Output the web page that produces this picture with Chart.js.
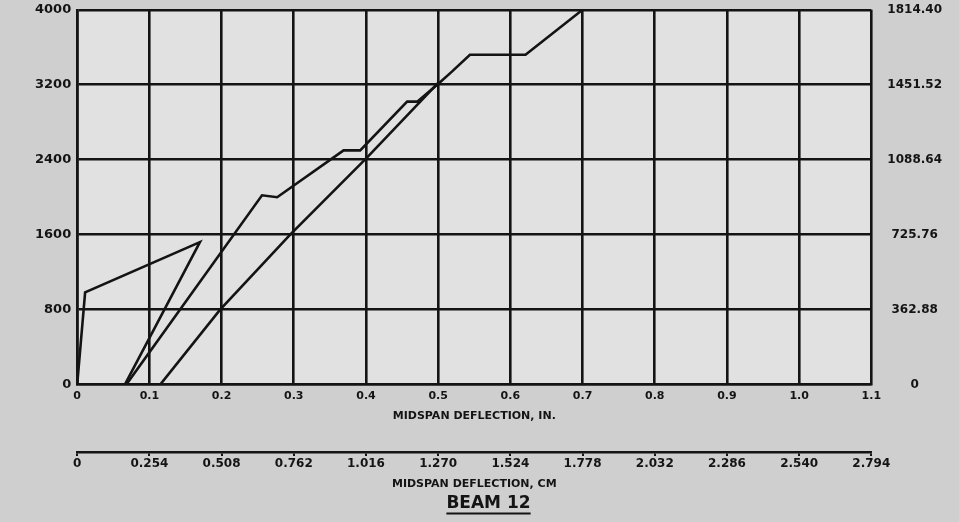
<!DOCTYPE html>
<html><head><meta charset="utf-8">
<script src="https://cdn.jsdelivr.net/npm/chart.js@4"></script>
<style>html,body{margin:0;padding:0;background:#cfcfcf;} #wrap{width:959px;height:522px;position:relative;}</style>
</head><body><div id="wrap"><canvas id="c" width="959" height="522"></canvas></div>
<script>
// Tick values and labels
const xTicksIn = [0, 0.1, 0.2, 0.3, 0.4, 0.5, 0.6, 0.7, 0.8, 0.9, 1.0, 1.1];
const xLabelsIn = ['0', '0.1', '0.2', '0.3', '0.4', '0.5', '0.6', '0.7', '0.8', '0.9', '1.0', '1.1'];
const xTicksCm = [0, 0.254, 0.508, 0.762, 1.016, 1.270, 1.524, 1.778, 2.032, 2.286, 2.540, 2.794];
const xLabelsCm = ['0', '0.254', '0.508', '0.762', '1.016', '1.270', '1.524', '1.778', '2.032', '2.286', '2.540', '2.794'];
const yTicksLb = [0, 800, 1600, 2400, 3200, 4000];
const yLabelsLb = ['0', '800', '1600', '2400', '3200', '4000'];
const yTicksKg = [0, 362.88, 725.76, 1088.64, 1451.52, 1814.40];
const yLabelsKg = ['0', '362.88', '725.76', '1088.64', '1451.52', '1814.40'];

// Load (lb) vs midspan deflection (in.)
const firstCycleX = [0, 0.011, 0.170, 0.066];
const firstCycleY = [0, 985, 1520, 0];
const secondCycleX = [0.068, 0.256, 0.277, 0.369, 0.392, 0.457, 0.471, 0.503, 0.519, 0.544, 0.621, 0.700];
const secondCycleY = [0, 2020, 2000, 2500, 2500, 3020, 3020, 3230, 3340, 3520, 3520, 4000];
const thirdCycleX = [0.115, 0.198, 0.295, 0.401, 0.500];
const thirdCycleY = [0, 800, 1600, 2420, 3220];

const pts = (xs, ys) => xs.map((x, i) => ({x: x, y: ys[i]}));
const INK = '#141414';
const FONT = '"DejaVu Sans", sans-serif';

const plotBg = {
  id: 'plotBg',
  beforeDraw(chart) {
    const {ctx, chartArea: a} = chart;
    ctx.save(); ctx.fillStyle = '#e1e1e1';
    ctx.fillRect(a.left, a.top, a.right - a.left, a.bottom - a.top);
    ctx.restore();
  }
};
const underline = {
  id: 'underline',
  afterDraw(chart) {
    const t = chart.titleBlock; if (!t) return;
    const ctx = chart.ctx;
    ctx.save();
    ctx.font = 'bold 17px ' + FONT;
    const w = ctx.measureText(chart.options.plugins.title.text).width;
    const cx = (t.left + t.right) / 2;
    const y = t.top + 21;
    ctx.strokeStyle = INK; ctx.lineWidth = 2;
    ctx.beginPath(); ctx.moveTo(cx - w / 2, y); ctx.lineTo(cx + w / 2, y); ctx.stroke();
    ctx.restore();
  }
};

const lineDs = (data) => ({data: data, showLine: true, borderColor: INK, borderWidth: 2.6, pointRadius: 0, tension: 0, fill: false, xAxisID: 'x', yAxisID: 'y'});

new Chart(document.getElementById('c'), {
  type: 'scatter',
  data: {
    datasets: [
      lineDs(pts(firstCycleX, firstCycleY)),
      lineDs(pts(secondCycleX, secondCycleY)),
      lineDs(pts(thirdCycleX, thirdCycleY))
    ]
  },
  options: {
    responsive: false, animation: false,
    layout: {padding: {left: 33, right: 15, top: 0, bottom: 0}},
    plugins: {
      legend: {display: false}, tooltip: {enabled: false},
      title: {display: true, position: 'bottom', text: 'BEAM 12', color: INK,
        font: {family: FONT, size: 17, weight: 'bold', lineHeight: 1.2}, padding: {top: 1, bottom: 8}}
    },
    scales: {
      x: {
        type: 'linear', position: 'bottom', min: 0, max: 1.1, weight: 0,
        afterBuildTicks: s => { s.ticks = xTicksIn.map(v => ({value: v})); },
        ticks: {callback: (v, i) => xLabelsIn[i], color: INK, padding: 5, maxRotation: 0, autoSkip: false,
          font: {family: FONT, size: 11, weight: 'bold'}},
        grid: {color: INK, lineWidth: 2.6, drawTicks: false},
        border: {display: true, color: INK, width: 2.6},
        title: {display: true, text: 'MIDSPAN DEFLECTION, IN.', color: INK,
          font: {family: FONT, size: 11, weight: 'bold', lineHeight: 1.2}, padding: {top: 2, bottom: 29}}
      },
      x2: {
        type: 'linear', position: 'bottom', min: 0, max: 2.794, weight: 1,
        afterBuildTicks: s => { s.ticks = xTicksCm.map(v => ({value: v})); },
        ticks: {callback: (v, i) => xLabelsCm[i], color: INK, padding: 1, maxRotation: 0, autoSkip: false,
          font: {family: FONT, size: 12, weight: 'bold'}},
        grid: {drawOnChartArea: false, drawTicks: true, tickLength: 4, color: INK, lineWidth: 2},
        border: {display: true, color: INK, width: 2.6},
        title: {display: true, text: 'MIDSPAN DEFLECTION, CM', color: INK,
          font: {family: FONT, size: 11, weight: 'bold', lineHeight: 1.2}, padding: {top: 5, bottom: 2}}
      },
      y: {
        type: 'linear', position: 'left', min: 0, max: 4000,
        afterBuildTicks: s => { s.ticks = yTicksLb.map(v => ({value: v})); },
        ticks: {callback: (v, i) => yLabelsLb[i], color: INK, padding: 2,
          font: {family: FONT, size: 13, weight: 'bold'}},
        grid: {color: INK, lineWidth: 2.6, drawTicks: true, tickLength: 4, tickColor: 'rgba(0,0,0,0)'},
        border: {display: true, color: INK, width: 2.6}
      },
      y2: {
        type: 'linear', position: 'right', min: 0, max: 1814.40,
        afterBuildTicks: s => { s.ticks = yTicksKg.map(v => ({value: v})); },
        ticks: {callback: (v, i) => yLabelsKg[i], color: INK, padding: 2, crossAlign: 'center',
          font: {family: FONT, size: 12, weight: 'bold'}},
        grid: {drawOnChartArea: false, drawTicks: true, tickLength: 14, color: 'rgba(0,0,0,0)'},
        border: {display: false}
      }
    }
  },
  plugins: [plotBg, underline]
});
</script>
</body></html>
